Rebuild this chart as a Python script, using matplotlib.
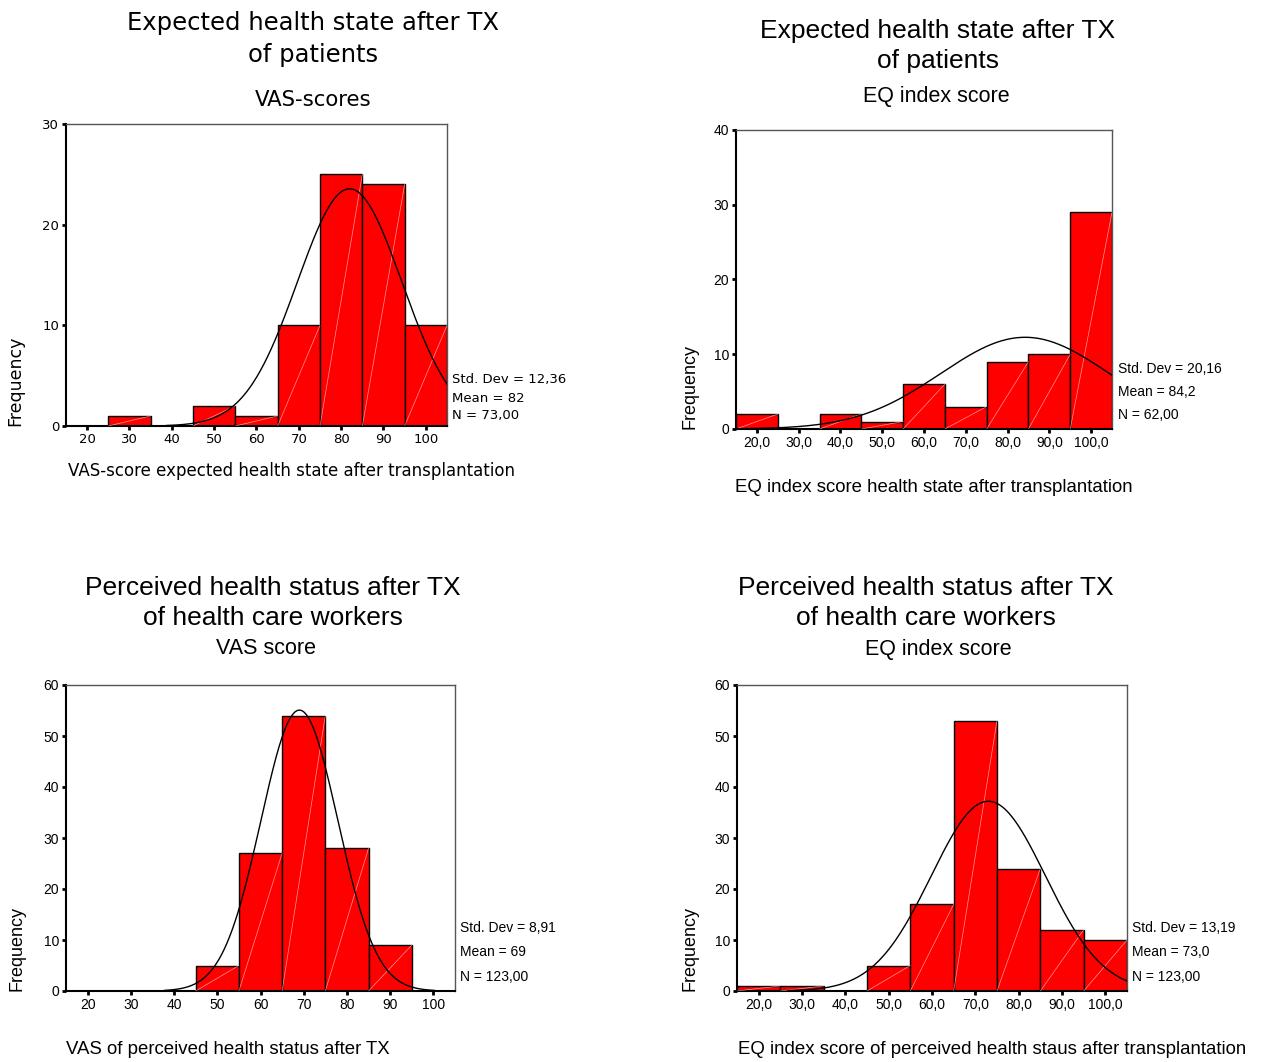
import numpy as np
import matplotlib
matplotlib.use("Agg")
import matplotlib.pyplot as plt

W, H = 1261, 1062

# Bin centres shared by the four histograms
bins = [20, 30, 40, 50, 60, 70, 80, 90, 100]

# Panel 1: VAS patients
vas_pat_counts = [0, 1, 0, 2, 1, 10, 25, 24, 10]
vas_pat_stats = (12.36, 82, 73)
vas_pat_labels = ["20", "30", "40", "50", "60", "70", "80", "90", "100"]

# Panel 2: EQ patients
eq_pat_counts = [2, 0, 2, 1, 6, 3, 9, 10, 29]
eq_pat_stats = (20.16, 84.2, 62)
eq_labels = ["20,0", "30,0", "40,0", "50,0", "60,0", "70,0", "80,0", "90,0", "100,0"]

# Panel 3: VAS health care workers
vas_hcw_counts = [0, 0, 0, 5, 27, 54, 28, 9, 0]
vas_hcw_stats = (8.91, 69, 123)

# Panel 4: EQ health care workers
eq_hcw_counts = [1, 1, 0, 5, 17, 53, 24, 12, 10]
eq_hcw_stats = (13.19, 73.0, 123)

# font sizes: title, subtitle, xlabel, ylabel, ticks/stats, title linespacing
fs_verdana = (17.5, 15.3, 12.0, 12.5, 9.5, 1.45)
fs_arial = (19, 15.5, 13.4, 13, 10, 1.28)


def px(x, y):
    return x / W, 1 - y / H


def make_panel(fig, box, counts, stats, ymax, yticks, xlabels, font, sizes,
               title, subtitle, xlabel, title_xy, sub_xy, xl_xy,
               st_x, st_y, freq_x, stat_txt):
    fs_t, fs_s, fs_x, fs_y, fs, lsp = sizes
    left, top, right, bottom = box
    ax = fig.add_axes([left / W, 1 - bottom / H, (right - left) / W, (bottom - top) / H])
    width = 10
    ax.bar(bins, counts, width=width, color="#ff0000", edgecolor="black",
           linewidth=1.0, zorder=2)
    for b, c in zip(bins, counts):
        if c > 0:
            ax.plot([b - width / 2, b + width / 2], [0, c], color="white",
                    lw=0.5, alpha=0.6, zorder=3)
    sd, mean, n = stats
    xs = np.linspace(max(15, mean - 3.5 * sd), min(105, mean + 3.5 * sd), 300)
    ys = n * width / (sd * np.sqrt(2 * np.pi)) * np.exp(-0.5 * ((xs - mean) / sd) ** 2)
    ax.plot(xs, ys, color="black", lw=1.0, zorder=4)
    ax.set_xlim(15, 105)
    ax.set_ylim(0, ymax)
    ax.set_xticks(bins)
    ax.set_xticklabels(xlabels, fontsize=fs, family=font)
    ax.set_yticks(yticks)
    ax.set_yticklabels([str(t) for t in yticks], fontsize=fs, family=font)
    ax.tick_params(length=3, width=2, pad=2)
    ax.spines["left"].set_linewidth(1.5)
    ax.spines["bottom"].set_linewidth(1.5)
    for s in ("top", "right"):
        ax.spines[s].set_color("#555555")
        ax.spines[s].set_linewidth(1.0)

    x, y = px(*title_xy)
    fig.text(x, y, title, ha="center", va="center", fontsize=fs_t,
             family=font, linespacing=lsp)
    x, y = px(*sub_xy)
    fig.text(x, y, subtitle, ha="center", va="center", fontsize=fs_s, family=font)
    x, y = px(*xl_xy)
    fig.text(x, y, xlabel, ha="left", va="center", fontsize=fs_x, family=font)
    x, y = px(freq_x, bottom)
    fig.text(x, y, "Frequency", ha="center", va="bottom", rotation=90,
             fontsize=fs_y, family=font)
    for i, t in enumerate(stat_txt):
        x, y = px(st_x, st_y[i])
        fig.text(x, y, t, ha="left", va="center", fontsize=fs, family=font)
    return ax


fig = plt.figure(figsize=(W / 100, H / 100), dpi=100)
fig.patch.set_facecolor("white")

make_panel(fig, (66, 124, 447, 426), vas_pat_counts, vas_pat_stats, 30, [0, 10, 20, 30],
           vas_pat_labels, "DejaVu Sans", fs_verdana,
           "Expected health state after TX\nof patients", "VAS-scores",
           "VAS-score expected health state after transplantation",
           (313, 39), (313, 100), (68, 471), 452, [380, 398, 416], 15,
           ["Std. Dev = 12,36", "Mean = 82", "N = 73,00"])

make_panel(fig, (736, 130, 1112, 429), eq_pat_counts, eq_pat_stats, 40, [0, 10, 20, 30, 40],
           eq_labels, "Liberation Sans", fs_arial,
           "Expected health state after TX\nof patients", "EQ index score",
           "EQ index score health state after transplantation",
           (938, 46), (936, 96), (735, 487), 1118, [369, 392, 415], 690,
           ["Std. Dev = 20,16", "Mean = 84,2", "N = 62,00"])

make_panel(fig, (66, 685, 455, 991), vas_hcw_counts, vas_hcw_stats, 60,
           [0, 10, 20, 30, 40, 50, 60],
           vas_pat_labels, "Liberation Sans", fs_arial,
           "Perceived health status after TX\nof health care workers", "VAS score",
           "VAS of perceived health status after TX",
           (273, 603), (266, 649), (66, 1050), 460, [928, 952, 977], 17,
           ["Std. Dev = 8,91", "Mean = 69", "N = 123,00"])

make_panel(fig, (737, 685, 1127, 991), eq_hcw_counts, eq_hcw_stats, 60,
           [0, 10, 20, 30, 40, 50, 60],
           eq_labels, "Liberation Sans", fs_arial,
           "Perceived health status after TX\nof health care workers", "EQ index score",
           "EQ index score of perceived health staus after transplantation",
           (926, 603), (938, 649), (738, 1050), 1132, [928, 952, 977], 690,
           ["Std. Dev = 13,19", "Mean = 73,0", "N = 123,00"])

fig.savefig("out.png", dpi=100)
